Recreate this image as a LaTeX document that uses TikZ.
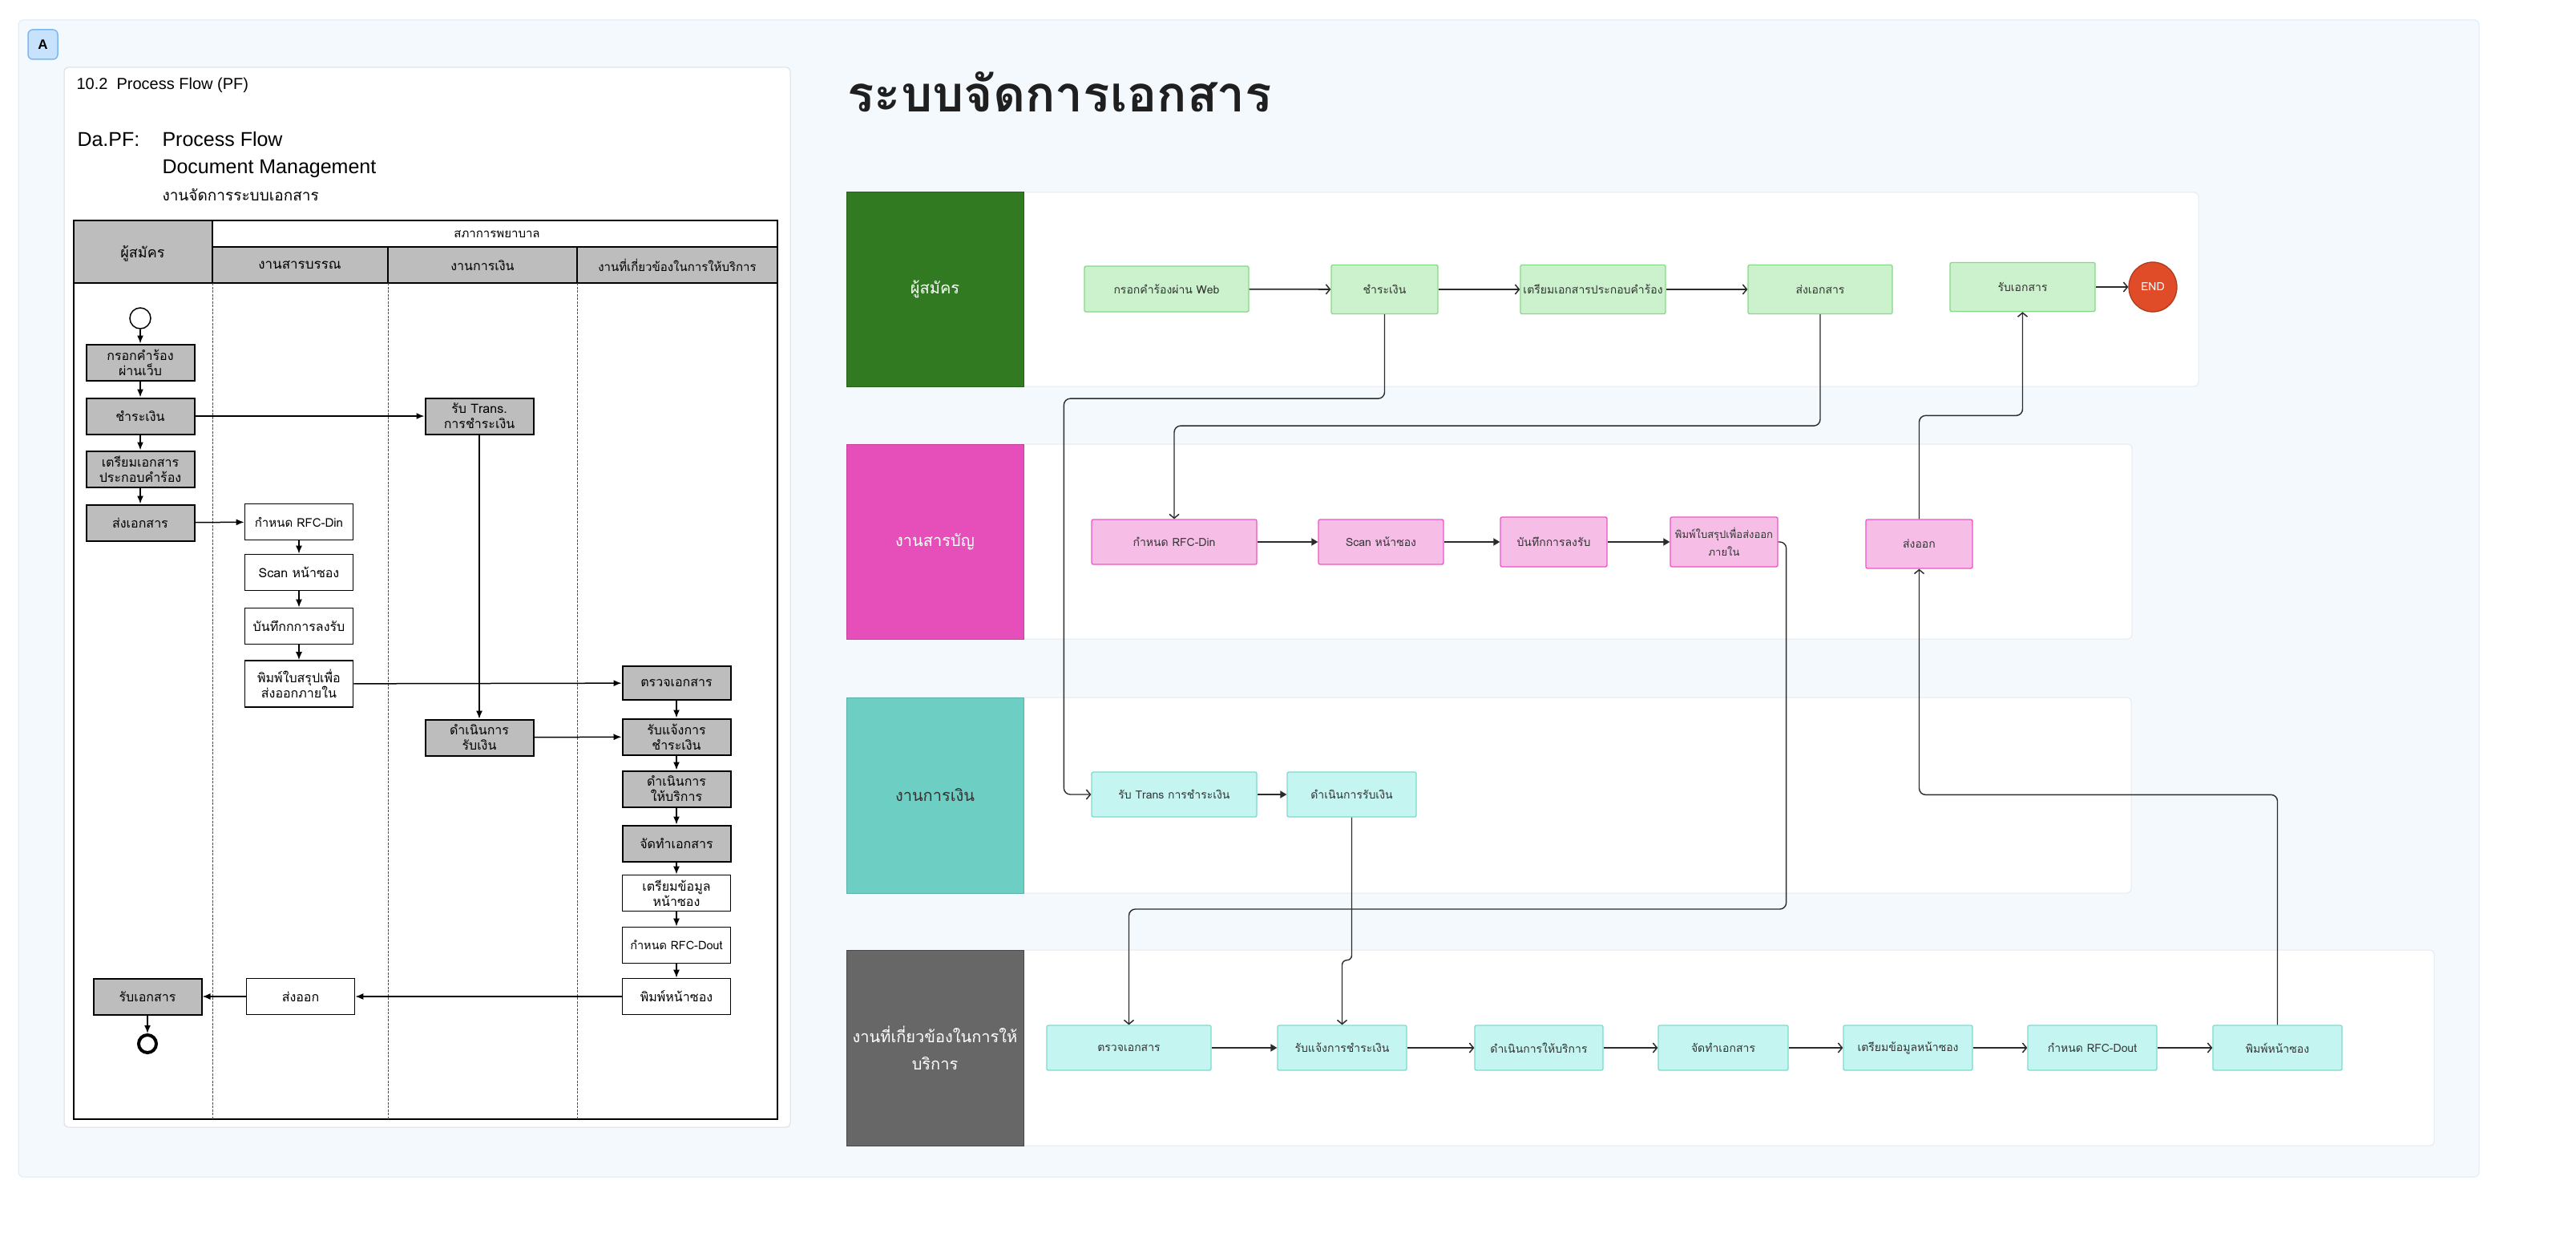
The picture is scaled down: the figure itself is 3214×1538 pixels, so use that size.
\documentclass[tikz,border=0pt]{standalone}
\usepackage{fontspec}
\setmainfont{Liberation Sans}
\newfontfamily\thaifont[Script=Thai]{Loma}
\usepackage{xcolor}
\usetikzlibrary{positioning}
\usetikzlibrary{arrows.meta}
\usetikzlibrary{shapes.geometric}

\definecolor{panelfill}{HTML}{F4F9FE}
\definecolor{panelline}{HTML}{DCEBFA}
\definecolor{badgefill}{HTML}{C6E2FD}
\definecolor{badgeline}{HTML}{7DB7F0}
\definecolor{cardline}{HTML}{DADDE2}
\definecolor{laneline}{HTML}{E6EAEF}
\definecolor{scangray}{HTML}{BDBDBD}
\definecolor{applicant}{HTML}{317A22}
\definecolor{registry}{HTML}{E64FB9}
\definecolor{finance}{HTML}{6DCFC3}
\definecolor{service}{HTML}{676767}
\definecolor{applyfill}{HTML}{CBF2CC}
\definecolor{applyline}{HTML}{86D986}
\definecolor{regfill}{HTML}{F6BDE7}
\definecolor{regline}{HTML}{EE55C6}
\definecolor{cyanfill}{HTML}{C4F5F1}
\definecolor{cyanline}{HTML}{7FD9CE}
\definecolor{endfill}{HTML}{E04B28}
\definecolor{endline}{HTML}{B03A1E}
\definecolor{textgray}{HTML}{333333}
\definecolor{linegray}{HTML}{2B2B2B}

\newcommand{\boxfont}{\thaifont\fontsize{14pt}{22pt}\selectfont}
\newcommand{\lanefont}{\thaifont\fontsize{20pt}{34pt}\selectfont}
\newcommand{\scanfont}{\thaifont\fontsize{16pt}{19pt}\selectfont}

\tikzset{
	panel/.style={fill=panelfill, draw=panelline, line width=1pt, rounded corners=6pt},
	card/.style={fill=white, draw=cardline, line width=1pt, rounded corners=5pt},
	badge/.style={fill=badgefill, draw=badgeline, line width=1.5pt, rounded corners=6pt, minimum width=37, minimum height=37, inner sep=0pt, font=\bfseries\fontsize{17pt}{20pt}\selectfont},
	scanline/.style={draw=black, line width=1.3pt},
	scandash/.style={draw=black!70, line width=0.9pt, dash pattern=on 3pt off 1.5pt},
	scanplain/.style={draw=black, fill=white, line width=1.6pt, minimum width=135, minimum height=45, inner sep=0pt, align=center, font=\scanfont},
	scanshade/.style={scanplain, fill=scangray, line width=2pt},
	scanarrow/.style={draw=black, line width=1.5pt, -{Latex[length=10pt, width=8pt]}},
	lanebody/.style={fill=white, draw=laneline, line width=1pt, rounded corners=5pt},
	lanelabel/.style={rectangle, minimum width=221, inner sep=0pt, align=center, font=\lanefont, text=white, line width=1pt},
	stepbox/.style={draw, rectangle, rounded corners=2pt, line width=1.3pt, inner sep=0pt, align=center, font=\boxfont, text=textgray},
	applybox/.style={stepbox, fill=applyfill, draw=applyline, minimum height=61},
	regbox/.style={stepbox, fill=regfill, draw=regline},
	cyanbox/.style={stepbox, fill=cyanfill, draw=cyanline, minimum height=56},
	flowopen/.style={draw=linegray, line width=1.8pt, -{Straight Barb[length=5pt, width=12pt, line width=1.5pt]}},
	flowfill/.style={draw=linegray, line width=1.8pt, -{Triangle[length=8pt, width=9pt]}},
	routeline/.style={flowopen, line width=1.4pt, rounded corners=8pt}
}

\begin{document}
\begin{tikzpicture}[x=1pt, y=-1pt]
	\useasboundingbox (0,0) rectangle (3214,1538);
	\fill[white] (0,0) rectangle (3214,1538);
	\draw[panel] (23,25) rectangle (3093,1468);
	\node[badge] (badge) at (53.5,55.5) {A};

	% scanned page
	\draw[card] (80,84) rectangle (986,1406);
	\node[anchor=base west, font=\fontsize{20pt}{24pt}\selectfont] (pfno) at (92,112) {10.2\ \ Process Flow (PF)};
	\node[anchor=base west, font=\fontsize{25pt}{30pt}\selectfont] (pfcode) at (93,183) {Da.PF:};
	\node[anchor=base west, font=\fontsize{25pt}{30pt}\selectfont] (pfname) at (199,183) {Process Flow};
	\node[anchor=base west, font=\fontsize{25pt}{30pt}\selectfont] (pfsub) at (199,217) {Document Management};
	\node[anchor=base west, font=\thaifont\fontsize{19pt}{22pt}\selectfont] (pfthai) at (199,251) {งานจัดการระบบเอกสาร};

	\fill[scangray] (92,275) rectangle (265,353);
	\fill[scangray] (265,308) rectangle (970,353);
	\draw[scanline] (92,275) rectangle (970,1396);
	\draw[scanline] (265,275) -- (265,353);
	\draw[scanline] (265,308) -- (970,308);
	\draw[scanline] (92,353) -- (970,353);
	\draw[scanline] (484,308) -- (484,353);
	\draw[scanline] (720,308) -- (720,353);
	\draw[scandash] (265,353) -- (265,1396);
	\draw[scandash] (484,353) -- (484,1396);
	\draw[scandash] (720,353) -- (720,1396);

	\node[font=\thaifont\fontsize{18pt}{20pt}\selectfont] (hdapp) at (178,316) {ผู้สมัคร};
	\node[font=\thaifont\fontsize{15pt}{20pt}\selectfont] (hdcouncil) at (620,292) {สภาการพยาบาล};
	\node[font=\thaifont\fontsize{17pt}{20pt}\selectfont] (hdreg) at (374,331) {งานสารบรรณ};
	\node[font=\thaifont\fontsize{16pt}{20pt}\selectfont] (hdfin) at (602,331) {งานการเงิน};
	\node[font=\thaifont\fontsize{15pt}{20pt}\selectfont] (hdsvc) at (845,331) {งานที่เกี่ยวข้องในการให้บริการ};

	\node[draw=black, line width=1.5pt, circle, minimum size=26, inner sep=0pt] (lstart) at (175,397) {};
	\node[scanshade] (lfill) at (175,452) {กรอกคำร้อง\\ผ่านเว็บ};
	\node[scanshade] (lfpay) at (175,519) {ชำระเงิน};
	\node[scanshade] (lfprep) at (175,585) {เตรียมเอกสาร\\ประกอบคำร้อง};
	\node[scanshade] (lfsend) at (175,652) {ส่งเอกสาร};
	\node[scanshade] (lfget) at (184,1243) {รับเอกสาร};
	\node[draw=black, line width=4pt, circle, minimum size=22, inner sep=0pt] (lend) at (184,1302) {};

	\node[scanplain, font=\thaifont\fontsize{15pt}{19pt}\selectfont] (ldrfc) at (373,651) {กำหนด RFC-Din};
	\node[scanplain] (ldscan) at (373,714) {Scan หน้าซอง};
	\node[scanplain] (ldlog) at (373,781) {บันทึกกการลงรับ};
	\node[scanplain, minimum height=58] (ldprint) at (373,853) {พิมพ์ใบสรุปเพื่อ\\ส่งออกภายใน};
	\node[scanplain] (ldout) at (375,1243) {ส่งออก};

	\node[scanshade] (lmtrans) at (598,519) {รับ Trans.\\การชำระเงิน};
	\node[scanshade] (lmcash) at (598,920) {ดำเนินการ\\รับเงิน};

	\node[scanshade, minimum height=42] (lscheck) at (844,852) {ตรวจเอกสาร};
	\node[scanshade] (lsnotice) at (844,919) {รับแจ้งการ\\ชำระเงิน};
	\node[scanshade] (lsserve) at (844,984) {ดำเนินการ\\ให้บริการ};
	\node[scanshade] (lsmake) at (844,1052) {จัดทำเอกสาร};
	\node[scanplain] (lsdata) at (844,1114) {เตรียมข้อมูล\\หน้าซอง};
	\node[scanplain, font=\thaifont\fontsize{14.5pt}{19pt}\selectfont] (lsrfc) at (844,1179) {กำหนด RFC-Dout};
	\node[scanplain] (lsprint) at (844,1243) {พิมพ์หน้าซอง};

	\draw[scanarrow] (lstart) -- (lfill);
	\draw[scanarrow] (lfill) -- (lfpay);
	\draw[scanarrow] (lfpay) -- (lfprep);
	\draw[scanarrow] (lfprep) -- (lfsend);
	\draw[scanarrow] (lfpay) -- (lmtrans);
	\draw[scanarrow] (lfsend) -- (ldrfc);
	\draw[scanarrow] (ldrfc) -- (ldscan);
	\draw[scanarrow] (ldscan) -- (ldlog);
	\draw[scanarrow] (ldlog) -- (ldprint);
	\draw[scanarrow] (ldprint) -- (lscheck);
	\draw[scanarrow, line width=1.1pt] (lmtrans) -- (lmcash);
	\draw[scanarrow] (lmcash) -- (lsnotice);
	\draw[scanarrow] (lscheck) -- (lsnotice);
	\draw[scanarrow] (lsnotice) -- (lsserve);
	\draw[scanarrow] (lsserve) -- (lsmake);
	\draw[scanarrow] (lsmake) -- (lsdata);
	\draw[scanarrow] (lsdata) -- (lsrfc);
	\draw[scanarrow] (lsrfc) -- (lsprint);
	\draw[scanarrow] (lsprint) -- (ldout);
	\draw[scanarrow] (ldout) -- (lfget);
	\draw[scanarrow] (lfget) -- (lend);

	% swimlanes
	\node[anchor=base west, font=\thaifont\bfseries\fontsize{62pt}{68pt}\selectfont, text=black!88] (title) at (1054,140) {ระบบจัดการเอกสาร};

	\draw[lanebody] (1056,240) rectangle (2743,482);
	\draw[lanebody] (1056,554) rectangle (2660,797);
	\draw[lanebody] (1056,870) rectangle (2659,1114);
	\draw[lanebody] (1056,1185) rectangle (3037,1429);

	\node[lanelabel, fill=applicant, draw=applicant!80!black, minimum height=242] (laneapp) at (1166.5,361) {ผู้สมัคร};
	\node[lanelabel, fill=registry, draw=registry!85!black, minimum height=243] (lanereg) at (1166.5,675.5) {งานสารบัญ};
	\node[lanelabel, fill=finance, draw=finance!85!black, minimum height=244, text=textgray] (lanefin) at (1166.5,992) {งานการเงิน};
	\node[lanelabel, fill=service, draw=service!70!black, minimum height=244] (lanesvc) at (1166.5,1307) {งานที่เกี่ยวข้องในการให้\\บริการ};

	\node[applybox, minimum width=205, minimum height=57] (web) at (1455.5,360.5) {กรอกคำร้องผ่าน Web};
	\node[applybox, minimum width=133] (pay) at (1727.5,361) {ชำระเงิน};
	\node[applybox, minimum width=181] (prep) at (1987.5,361) {เตรียมเอกสารประกอบคำร้อง};
	\node[applybox, minimum width=180] (send) at (2271,361) {ส่งเอกสาร};
	\node[applybox, minimum width=181] (receive) at (2523.5,358) {รับเอกสาร};
	\node[ellipse, fill=endfill, draw=endline, line width=1.3pt, minimum width=60, minimum height=62, inner sep=0pt, text=white, font=\thaifont\fontsize{14pt}{16pt}\selectfont] (finish) at (2686,358) {END};

	\node[regbox, minimum width=206, minimum height=56] (rfcin) at (1465,676) {กำหนด RFC-Din};
	\node[regbox, minimum width=156, minimum height=56] (scan) at (1723,676) {Scan หน้าซอง};
	\node[regbox, minimum width=133, minimum height=62] (logbook) at (1938.5,676) {บันทึกการลงรับ};
	\node[regbox, minimum width=134, minimum height=62, font=\thaifont\fontsize{13pt}{22pt}\selectfont] (summary) at (2151,676) {พิมพ์ใบสรุปเพื่อส่งออก\\ภายใน};
	\node[regbox, minimum width=133, minimum height=61] (dispatch) at (2394.5,678.5) {ส่งออก};

	\node[cyanbox, minimum width=206] (trans) at (1465,991) {รับ Trans การชำระเงิน};
	\node[cyanbox, minimum width=161] (cash) at (1686.5,991) {ดำเนินการรับเงิน};

	\node[cyanbox, minimum width=205] (check) at (1408.5,1307) {ตรวจเอกสาร};
	\node[cyanbox, minimum width=161] (notice) at (1674.5,1307) {รับแจ้งการชำระเงิน};
	\node[cyanbox, minimum width=160] (serve) at (1920,1307) {ดำเนินการให้บริการ};
	\node[cyanbox, minimum width=162] (make) at (2150,1307) {จัดทำเอกสาร};
	\node[cyanbox, minimum width=161] (envdata) at (2380.5,1307) {เตรียมข้อมูลหน้าซอง};
	\node[cyanbox, minimum width=161] (rfcout) at (2610.5,1307) {กำหนด RFC-Dout};
	\node[cyanbox, minimum width=161] (envprint) at (2841.5,1307) {พิมพ์หน้าซอง};

	\draw[flowopen] (web) -- (pay);
	\draw[flowopen] (pay) -- (prep);
	\draw[flowopen] (prep) -- (send);
	\draw[flowopen] (receive) -- (finish);
	\draw[flowfill] (rfcin) -- (scan);
	\draw[flowfill] (scan) -- (logbook);
	\draw[flowfill] (logbook) -- (summary);
	\draw[flowfill] (trans) -- (cash);
	\draw[flowfill] (check) -- (notice);
	\draw[flowopen] (notice) -- (serve);
	\draw[flowopen] (serve) -- (make);
	\draw[flowopen] (make) -- (envdata);
	\draw[flowopen] (envdata) -- (rfcout);
	\draw[flowopen] (rfcout) -- (envprint);

	\draw[routeline] (pay.south) -- ++(0,105) -| ([xshift=-34pt]trans.west) -- (trans.west);
	\draw[routeline] (send.south) -- ++(0,139) -| (rfcin.north);
	\draw[routeline] (summary.east) -- ++(10,0) -- ++(0,458) -| (check.north);
	\draw[routeline, rounded corners=6pt] (cash.south) -- ++(0,178) -| (notice.north);
	\draw[routeline] (envprint.north) -- ++(0,-287) -| (dispatch.south);
	\draw[routeline] (dispatch.north) -- ++(0,-129) -| (receive.south);
\end{tikzpicture}
\end{document}
